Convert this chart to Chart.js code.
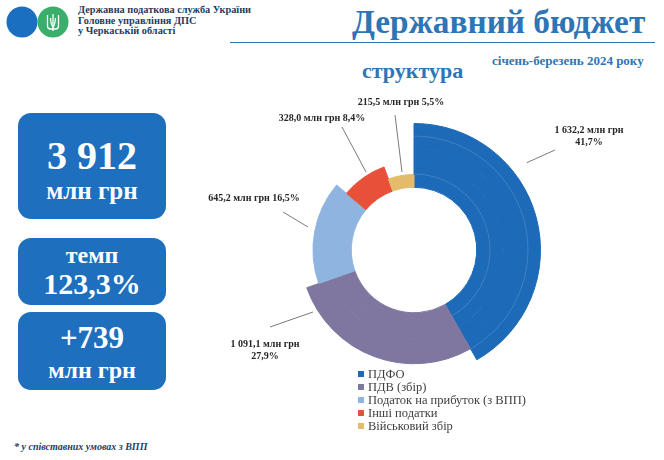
<!DOCTYPE html>
<html lang="uk">
<head>
<meta charset="utf-8">
<script src="https://cdn.jsdelivr.net/npm/chart.js@4.4.1/dist/chart.umd.min.js"></script>
<style>
  body { margin: 0; width: 664px; height: 460px; background: #fff; position: relative; overflow: hidden;
         font-family: "Liberation Serif", "Times New Roman", serif; }
  .abs { position: absolute; }
  .org { left: 78px; top: 5px; font-size: 10.3px; line-height: 10.5px; font-weight: bold; color: #1f3b60; }
  .rule { left: 230px; top: 42px; width: 425px; height: 0; border-top: 1.5px solid #2e75b6; }
  .title { left: 352px; top: 3px; font-size: 34px; font-weight: bold; color: #2e75b6; white-space: nowrap; }
  .period { left: 492px; top: 53px; font-size: 13px; font-weight: bold; color: #2e75b6; white-space: nowrap; }
  .sub { left: 362px; top: 58px; font-size: 22px; font-weight: bold; color: #2e75b6; white-space: nowrap; }
  .box { left: 18px; width: 148px; background: #1e6fbd; border-radius: 13px; color: #fff; font-weight: bold;
         text-align: center; }
  .note { left: 14px; top: 441px; font-size: 10px; font-style: italic; font-weight: bold; color: #1f3b60; }
  #legend { left: 358px; top: 368px; font-size: 12.5px; color: #404040; line-height: 13px; }
  #legend div span { display: inline-block; width: 6px; height: 6px; margin-right: 4px; vertical-align: 1px; }
  #wrap { left: 190px; top: 90px; width: 448px; height: 320px; }
</style>
</head>
<body>
<svg class="abs" style="left:0;top:0" width="75" height="45">
  <circle cx="22" cy="22" r="15.5" fill="#1a6fc0"/>
  <circle cx="53" cy="22" r="15.5" fill="#3aae6b"/>
  <g fill="none" stroke="#fff" stroke-width="1.3">
    <path d="M47.5 15 L47.5 26 Q47.5 29 50.5 29 L55.5 29 Q58.5 29 58.5 26 L58.5 15"/>
    <path d="M53 14 L53 31"/>
    <path d="M50.5 18 Q51 25 53 27 Q55 25 55.5 18"/>
  </g>
</svg>
<div class="abs org">Державна податкова служба України<br>Головне управління ДПС<br>у Черкаській області</div>
<div class="abs title" id="title">Державний бюджет</div>
<div class="abs rule"></div>
<div class="abs period">січень-березень 2024 року</div>
<div class="abs sub">структура</div>

<div class="abs box" style="top:113px;height:106px;">
  <div style="font-size:40px;line-height:40px;padding-top:23px;">3 912</div>
  <div style="font-size:25px;line-height:30px;">млн грн</div>
</div>
<div class="abs box" style="top:238px;height:67px;">
  <div style="font-size:24px;line-height:26px;padding-top:4px;">темп</div>
  <div style="font-size:30px;line-height:32px;">123,3%</div>
</div>
<div class="abs box" style="top:312px;height:78px;">
  <div style="font-size:31px;line-height:34px;padding-top:9px;">+739</div>
  <div style="font-size:24px;line-height:30px;">млн грн</div>
</div>
<div class="abs note">* у співставних умовах з ВПП</div>

<div class="abs" id="wrap"><canvas id="chart" width="448" height="320"></canvas></div>
<div class="abs" id="legend"></div>

<script>
// структура надходжень, млн грн
const categories = ['ПДФО', 'ПДВ (збір)', 'Податок на прибуток (з ВПП)', 'Інші податки', 'Військовий збір'];
const values = [1632.2, 1091.1, 645.2, 328.0, 215.5];
const colors = ['#1c6ab8', '#8077a0', '#8fb4e0', '#e8503a', '#e3bb6a'];
// how many of the 5 rings each slice spans (outer radius steps)
const sliceRings = [5, 4, 3, 2, 1];
const ringCount = 5;

// label placement relative to chart centre: text position and leader line
const labelLayout = [
  { tx: 175, ty: -120, two: true, line: [112.7, -87.3, 141, -100] },
  { tx: -149, ty: 94, two: true, line: [-101, 62, -144, 77] },
  { tx: -160, ty: -52, two: false, line: [-106, -23, -131, -38] },
  { tx: -92, ty: -132, two: false, line: [-48, -78, -72, -123] },
  { tx: -13, ty: -148, two: false, line: [-12, -78, -19, -135] }
];

const total = values.reduce((a, b) => a + b, 0);

// keep the big title at the width it has in the original
const title = document.getElementById('title');
title.style.fontSize = (34 * 293 / title.offsetWidth).toFixed(2) + 'px';

function fmtNum(v) {
  const parts = v.toFixed(1).split('.');
  const int = parts[0].replace(/\B(?=(\d{3})+(?!\d))/g, ' ');
  return int + ',' + parts[1];
}
function fmtPct(v) {
  return (v / total * 100).toFixed(1).replace('.', ',') + '%';
}

const datasets = [];
for (let i = 0; i < ringCount; i++) {
  const fill = values.map((v, j) => sliceRings[j] >= ringCount - i ? colors[j] : 'rgba(0,0,0,0)');
  datasets.push({
    data: values,
    backgroundColor: fill,
    borderColor: fill,
    borderWidth: 1
  });
}

const labelPlugin = {
  id: 'sliceLabels',
  afterDatasetsDraw(chart) {
    const arc = chart.getDatasetMeta(0).data[0];
    const cx = arc.x, cy = arc.y;
    const ctx = chart.ctx;
    ctx.save();
    // faint ring edges seen inside the big slice
    ctx.strokeStyle = 'rgba(255,255,255,0.18)';
    ctx.lineWidth = 0.8;
    [114, 76].forEach(r => {
      ctx.beginPath();
      ctx.arc(cx, cy, r, -Math.PI / 2, -Math.PI / 2 + 2 * Math.PI * values[0] / total);
      ctx.stroke();
    });
    ctx.strokeStyle = '#595959';
    ctx.lineWidth = 0.8;
    ctx.fillStyle = '#262626';
    ctx.font = 'bold 10px "Liberation Serif", serif';
    ctx.textAlign = 'center';
    ctx.textBaseline = 'middle';
    labelLayout.forEach((l, j) => {
      ctx.beginPath();
      ctx.moveTo(cx + l.line[0], cy + l.line[1]);
      ctx.lineTo(cx + l.line[2], cy + l.line[3]);
      ctx.stroke();
      const a = fmtNum(values[j]) + ' млн грн';
      const p = fmtPct(values[j]);
      if (l.two) {
        ctx.fillText(a, cx + l.tx, cy + l.ty);
        ctx.fillText(p, cx + l.tx, cy + l.ty + 12);
      } else {
        ctx.fillText(a + ' ' + p, cx + l.tx, cy + l.ty);
      }
    });
    ctx.restore();
  }
};

new Chart(document.getElementById('chart'), {
  type: 'doughnut',
  data: { labels: categories, datasets: datasets },
  options: {
    responsive: false,
    animation: false,
    events: [],
    cutout: '49.6%',
    layout: { padding: { top: 33, bottom: 33 } },
    plugins: { legend: { display: false }, tooltip: { enabled: false } }
  },
  plugins: [labelPlugin]
});

document.getElementById('legend').innerHTML = categories
  .map((c, j) => `<div><span style="background:${colors[j]}"></span>${c}</div>`).join('');
</script>
</body>
</html>
